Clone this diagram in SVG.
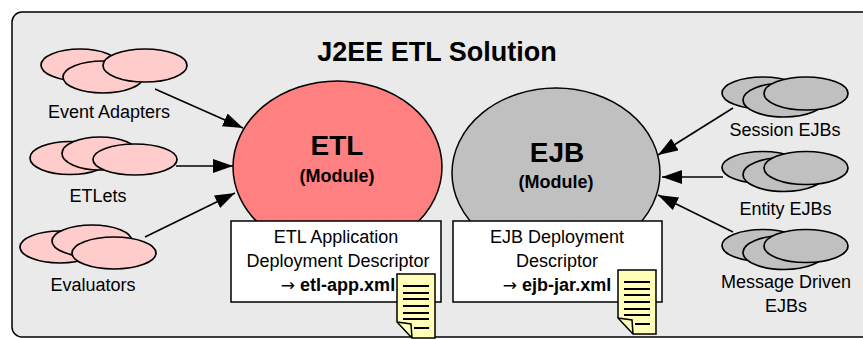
<svg xmlns="http://www.w3.org/2000/svg" width="863" height="339" viewBox="0 0 863 339">
<defs>
<style>
text{font-family:"Liberation Sans",Arial,sans-serif;fill:#000}
.lbl{font-size:18px;text-anchor:middle}
.b{font-weight:bold}
.arr{font-family:"DejaVu Sans",sans-serif;font-size:17px}
.pink{fill:#FFCCCC;stroke:#000;stroke-width:1.7}
.gray{fill:#C0C0C0;stroke:#000;stroke-width:1.7}
.box{fill:#fff;stroke:#000;stroke-width:1.5}
.doc{fill:#FFFFB8;stroke:#000;stroke-width:1.5}
.dl{stroke:#000;stroke-width:2}
.conn{stroke:#000;stroke-width:1.6;fill:none;marker-end:url(#ah)}
</style>
<marker id="ah" markerUnits="userSpaceOnUse" markerWidth="22" markerHeight="16" refX="20" refY="7" orient="auto">
<path d="M0,0 L20,7 L0,14 Z" fill="#000"/>
</marker>
<g id="cl3" class="gray">
<ellipse cx="-43" cy="-0.5" rx="41" ry="16"/>
<ellipse cx="-22" cy="6.5" rx="41" ry="17"/>
<ellipse cx="0" cy="0" rx="42" ry="16.5"/>
</g>
</defs>
<rect x="12" y="12" width="880" height="325" rx="10" fill="#EAEAEA" stroke="#000" stroke-width="1.5"/>
<text x="437" y="61" font-size="27" font-weight="bold" text-anchor="middle">J2EE ETL Solution</text>

<g id="connectors">
<line class="conn" x1="155" y1="89" x2="243" y2="128"/>
<line class="conn" x1="176" y1="166" x2="233" y2="166"/>
<line class="conn" x1="145" y1="237" x2="235" y2="193"/>
<line class="conn" x1="733" y1="108" x2="658" y2="155"/>
<line class="conn" x1="723" y1="177" x2="662" y2="177"/>
<line class="conn" x1="733" y1="232" x2="658" y2="195"/>
</g>

<g id="etl-module">
<ellipse cx="337.5" cy="167" rx="104.5" ry="86" fill="#FF8080" stroke="#000" stroke-width="1.5"/>
<text x="337" y="155" font-size="28" font-weight="bold" text-anchor="middle">ETL</text>
<text x="337" y="182" font-size="18" font-weight="bold" text-anchor="middle">(Module)</text>
</g>
<g id="ejb-module">
<ellipse cx="556" cy="173" rx="104" ry="85" fill="#C0C0C0" stroke="#000" stroke-width="1.5"/>
<text x="557" y="162" font-size="28" font-weight="bold" text-anchor="middle">EJB</text>
<text x="556" y="188" font-size="18" font-weight="bold" text-anchor="middle">(Module)</text>
</g>

<g id="etl-descriptor">
<rect class="box" x="231" y="221" width="210" height="81"/>
<text class="lbl" x="336" y="243">ETL Application</text>
<text class="lbl" x="338" y="267">Deployment Descriptor</text>
<text class="lbl" x="338" y="291"><tspan class="arr">→</tspan> <tspan class="b">etl-app.xml</tspan></text>
<path class="doc" d="M397,274 H435 V338 H412 L397,322 Z"/>
<path d="M397,322 L411,324 L412,338" fill="none" stroke="#000" stroke-width="1.5"/>
<g class="dl">
<line x1="403" y1="286" x2="429" y2="286"/>
<line x1="403" y1="293" x2="429" y2="293"/>
<line x1="403" y1="299" x2="429" y2="299"/>
<line x1="403" y1="306" x2="429" y2="306"/>
<line x1="403" y1="313" x2="429" y2="313"/>
<line x1="403" y1="319" x2="429" y2="319"/>
<line x1="414" y1="328" x2="429" y2="328"/>
</g>
</g>

<g id="ejb-descriptor">
<rect class="box" x="453" y="221" width="209" height="81"/>
<text class="lbl" x="557" y="243">EJB Deployment</text>
<text class="lbl" x="557" y="267">Descriptor</text>
<text class="lbl" x="557" y="291"><tspan class="arr">→</tspan> <tspan class="b">ejb-jar.xml</tspan></text>
<path class="doc" d="M618,270 H656 V334 H633 L618,318 Z"/>
<path d="M618,318 L632,320 L633,334" fill="none" stroke="#000" stroke-width="1.5"/>
<g class="dl">
<line x1="624" y1="282" x2="650" y2="282"/>
<line x1="624" y1="289" x2="650" y2="289"/>
<line x1="624" y1="295" x2="650" y2="295"/>
<line x1="624" y1="302" x2="650" y2="302"/>
<line x1="624" y1="309" x2="650" y2="309"/>
<line x1="624" y1="315" x2="650" y2="315"/>
<line x1="635" y1="324" x2="650" y2="324"/>
</g>
</g>

<g id="event-adapters">
<ellipse class="pink" cx="80" cy="65" rx="39" ry="16"/>
<ellipse class="pink" cx="103" cy="77" rx="40" ry="16"/>
<ellipse class="pink" cx="145" cy="65.5" rx="42" ry="16.5"/>
<text class="lbl" x="109" y="118">Event Adapters</text>
</g>
<g id="etlets">
<ellipse class="pink" cx="70" cy="158" rx="40" ry="16.5"/>
<ellipse class="pink" cx="100" cy="153.5" rx="38" ry="16.5"/>
<ellipse class="pink" cx="135" cy="159.5" rx="42" ry="15.5"/>
<text class="lbl" x="98" y="202">ETLets</text>
</g>
<g id="evaluators">
<ellipse class="pink" cx="60" cy="247" rx="40" ry="16"/>
<ellipse class="pink" cx="92" cy="241" rx="40" ry="16"/>
<ellipse class="pink" cx="114" cy="253" rx="42" ry="16"/>
<text class="lbl" x="93" y="291">Evaluators</text>
</g>

<g id="session-ejbs">
<use href="#cl3" x="806" y="93.5"/>
<text class="lbl" x="785" y="136">Session EJBs</text>
</g>
<g id="entity-ejbs">
<use href="#cl3" x="806" y="168"/>
<text class="lbl" x="785.5" y="215">Entity EJBs</text>
</g>
<g id="message-driven-ejbs">
<use href="#cl3" x="806" y="246"/>
<text class="lbl" x="786" y="288">Message Driven</text>
<text class="lbl" x="786" y="312">EJBs</text>
</g>
</svg>
